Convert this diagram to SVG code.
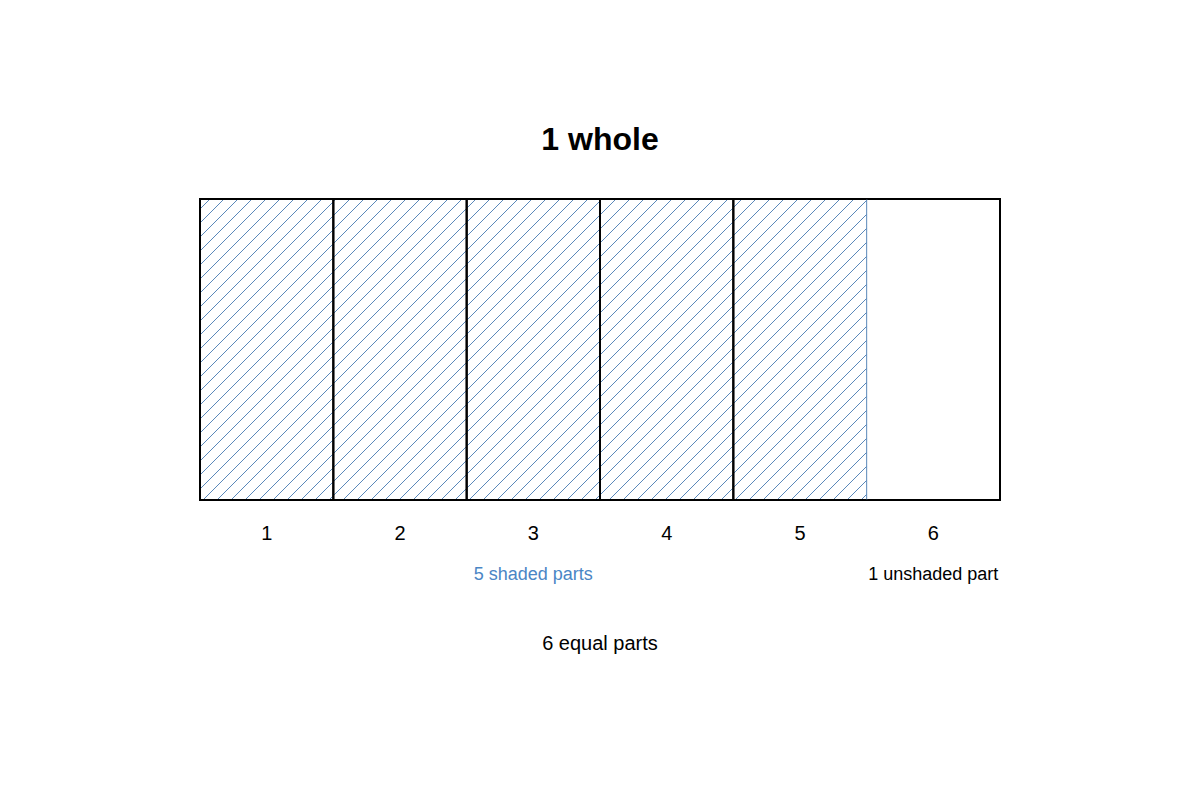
<svg xmlns="http://www.w3.org/2000/svg" width="1200" height="800" viewBox="0 0 1200 800">
<defs>
<clipPath id="shadeClip"><rect x="200" y="199" width="666.67" height="301"/></clipPath>
</defs>
<style>
.lbl{font-family:"Liberation Sans",Arial,sans-serif;font-size:20px;fill:#000;text-anchor:middle}
.sm{font-family:"Liberation Sans",Arial,sans-serif;font-size:18px;text-anchor:middle}
.cell{stroke:#000;stroke-width:2}
.hatch{stroke:#5a88ba;stroke-width:1;fill:none}
</style>
<rect width="1200" height="800" fill="#fff"/>
<text x="600" y="150" class="lbl" style="font-size:32px;font-weight:bold">1 whole</text>
<g id="bar">
<rect x="200" y="199" width="800" height="301" fill="#fff" stroke="#000" stroke-width="2"/>
<g clip-path="url(#shadeClip)">
<path class="hatch" d="M-105,500 l301,-301 m-287,301 l301,-301 m-287,301 l301,-301 m-287,301 l301,-301 m-287,301 l301,-301 m-287,301 l301,-301 m-287,301 l301,-301 m-287,301 l301,-301 m-287,301 l301,-301 m-287,301 l301,-301 m-287,301 l301,-301 m-287,301 l301,-301 m-287,301 l301,-301 m-287,301 l301,-301 m-287,301 l301,-301 m-287,301 l301,-301 m-287,301 l301,-301 m-287,301 l301,-301 m-287,301 l301,-301 m-287,301 l301,-301 m-287,301 l301,-301 m-287,301 l301,-301 m-287,301 l301,-301 m-287,301 l301,-301 m-287,301 l301,-301 m-287,301 l301,-301 m-287,301 l301,-301 m-287,301 l301,-301 m-287,301 l301,-301 m-287,301 l301,-301 m-287,301 l301,-301 m-287,301 l301,-301 m-287,301 l301,-301 m-287,301 l301,-301 m-287,301 l301,-301 m-287,301 l301,-301 m-287,301 l301,-301 m-287,301 l301,-301 m-287,301 l301,-301 m-287,301 l301,-301 m-287,301 l301,-301 m-287,301 l301,-301 m-287,301 l301,-301 m-287,301 l301,-301 m-287,301 l301,-301 m-287,301 l301,-301 m-287,301 l301,-301 m-287,301 l301,-301 m-287,301 l301,-301 m-287,301 l301,-301 m-287,301 l301,-301 m-287,301 l301,-301 m-287,301 l301,-301 m-287,301 l301,-301 m-287,301 l301,-301 m-287,301 l301,-301 m-287,301 l301,-301 m-287,301 l301,-301 m-287,301 l301,-301 m-287,301 l301,-301 m-287,301 l301,-301 m-287,301 l301,-301 m-287,301 l301,-301 m-287,301 l301,-301 m-287,301 l301,-301 m-287,301 l301,-301 m-287,301 l301,-301 m-287,301 l301,-301 m-287,301 l301,-301 m-287,301 l301,-301"/>
</g>
<line x1="866.67" y1="199" x2="866.67" y2="500" stroke="#5a88ba" stroke-width="1"/>
</g>
<g id="cells">
<g id="cell1"><rect class="cell" x="200" y="199" width="133.33" height="301" fill="none"/></g>
<g id="cell2"><rect class="cell" x="333.33" y="199" width="133.33" height="301" fill="none"/></g>
<g id="cell3"><rect class="cell" x="466.67" y="199" width="133.33" height="301" fill="none"/></g>
<g id="cell4"><rect class="cell" x="600" y="199" width="133.33" height="301" fill="none"/></g>
<g id="cell5"><path class="cell" d="M866.67,199 H733.33 V500 H866.67" fill="none"/></g>
</g>
<g id="labels">
<text x="266.7" y="540" class="lbl">1</text>
<text x="400" y="540" class="lbl">2</text>
<text x="533.3" y="540" class="lbl">3</text>
<text x="666.7" y="540" class="lbl">4</text>
<text x="800" y="540" class="lbl">5</text>
<text x="933.3" y="540" class="lbl">6</text>
<text x="533.3" y="580" class="sm" fill="#4a86c5">5 shaded parts</text>
<text x="933.3" y="580" class="sm" fill="#000">1 unshaded part</text>
<text x="600" y="650" class="lbl">6 equal parts</text>
</g>
</svg>
